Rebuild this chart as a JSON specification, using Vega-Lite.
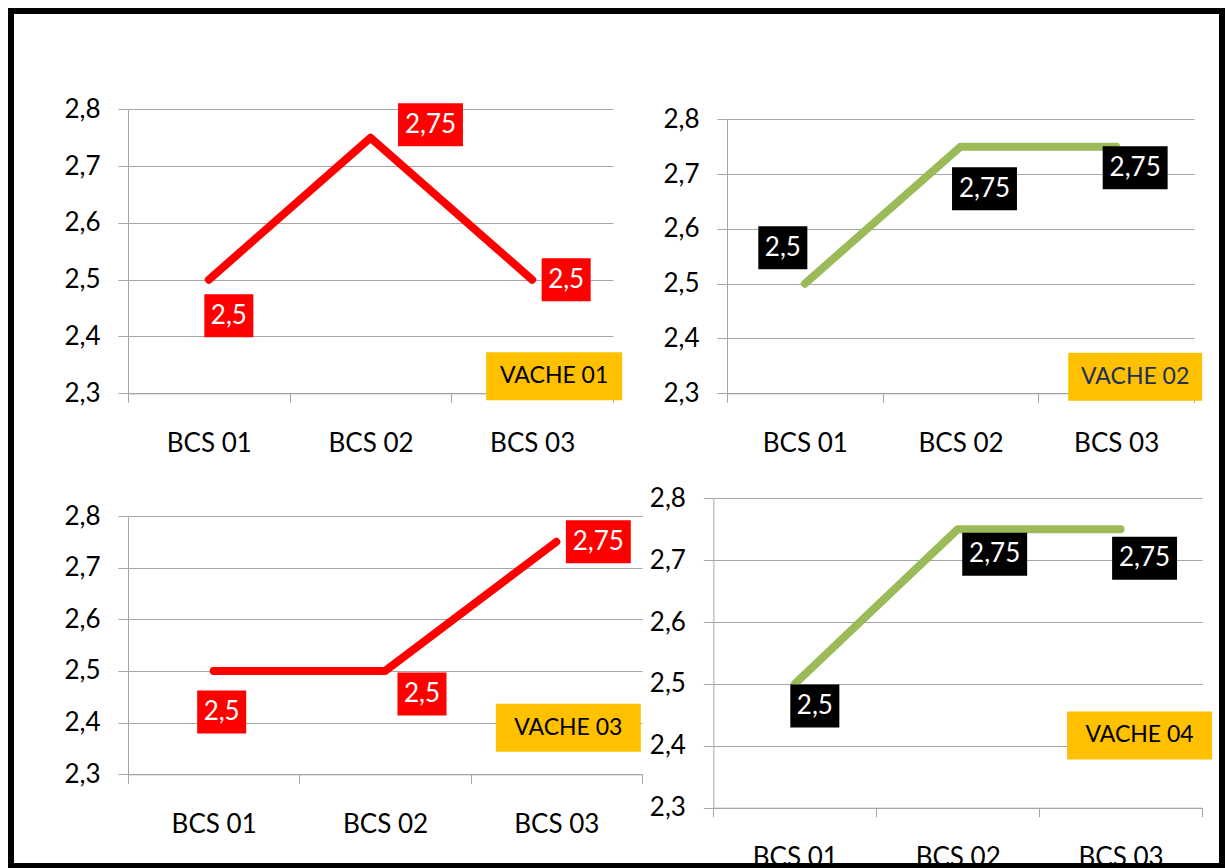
{
  "$schema": "https://vega.github.io/schema/vega-lite/v6.json",
  "width": 1211,
  "height": 855,
  "autosize": {"type": "none"},
  "padding": {"left": 11, "top": 11, "right": 3, "bottom": 2},
  "background": "#ffffff",
  "view": {"stroke": "#000000", "strokeWidth": 6, "fill": "#ffffff"},
  "config": {
    "font": "Lato",
    "locale": {"number": {"decimal": ",", "thousands": "\u00a0", "grouping": [3], "currency": ["", "\u00a0€"]}},
    "axis": {
      "labelFont": "Lato",
      "labelFontSize": 26,
      "labelColor": "#000000",
      "domainColor": "#a5a5a5",
      "tickColor": "#a5a5a5",
      "gridColor": "#a5a5a5",
      "domainWidth": 1,
      "tickWidth": 1,
      "gridWidth": 1,
      "labelFlush": false,
      "labelOverlap": false
    }
  },
  "datasets": {
    "bcs": [
      {"vache": "VACHE 01", "bcs": "BCS 01", "note": 2.5},
      {"vache": "VACHE 01", "bcs": "BCS 02", "note": 2.75},
      {"vache": "VACHE 01", "bcs": "BCS 03", "note": 2.5},
      {"vache": "VACHE 02", "bcs": "BCS 01", "note": 2.5},
      {"vache": "VACHE 02", "bcs": "BCS 02", "note": 2.75},
      {"vache": "VACHE 02", "bcs": "BCS 03", "note": 2.75},
      {"vache": "VACHE 03", "bcs": "BCS 01", "note": 2.5},
      {"vache": "VACHE 03", "bcs": "BCS 02", "note": 2.5},
      {"vache": "VACHE 03", "bcs": "BCS 03", "note": 2.75},
      {"vache": "VACHE 04", "bcs": "BCS 01", "note": 2.5},
      {"vache": "VACHE 04", "bcs": "BCS 02", "note": 2.75},
      {"vache": "VACHE 04", "bcs": "BCS 03", "note": 2.75}
    ]
  },
  "data": {"name": "bcs"},
  "resolve": {
    "scale": {"x": "independent", "y": "independent"},
    "axis": {"x": "independent", "y": "independent"}
  },
  "layer": [
    {
      "transform": [{"filter": "datum.vache === 'VACHE 01'"}],
      "encoding": {
        "x": {"field": "bcs", "type": "nominal", "bandPosition": 0.5,
          "scale": {"type": "band", "range": [117, 602], "paddingInner": 0, "paddingOuter": 0},
          "axis": {"orient": "bottom", "offset": -472.7, "title": null, "tickBand": "extent", "tickSize": 9, "labelPadding": 41, "labelBaseline": "middle", "labelAngle": 0, "grid": false}},
        "y": {"field": "note", "type": "quantitative",
          "scale": {"domain": [2.3, 2.8], "range": [382.3, 98.3], "nice": false, "zero": false},
          "axis": {"orient": "left", "offset": -117, "title": null, "values": [2.3, 2.4, 2.5, 2.6, 2.7, 2.8], "format": ".1f", "tickSize": 10, "labelPadding": 18, "labelBaseline": "middle", "grid": true}}
      },
      "layer": [
        {"mark": {"type": "line", "color": "#ff0000", "strokeWidth": 8, "strokeCap": "round", "strokeJoin": "round"}},
        {
          "transform": [{"filter": "datum.bcs === 'BCS 01'"}],
          "layer": [
            {"mark": {"type": "point", "shape": "M-1.14,-1H1.14V1H-1.14Z", "size": 1849, "filled": true, "color": "#ff0000", "opacity": 1, "strokeWidth": 0, "xOffset": 20, "yOffset": 36}},
            {"mark": {"type": "text", "color": "#ffffff", "fontSize": 26, "align": "center", "baseline": "middle", "xOffset": 20, "yOffset": 36}, "encoding": {"text": {"field": "note", "format": ".2~f"}}}
          ]
        },
        {
          "transform": [{"filter": "datum.bcs === 'BCS 02'"}],
          "layer": [
            {"mark": {"type": "point", "shape": "M-1.51,-1H1.51V1H-1.51Z", "size": 1849, "filled": true, "color": "#ff0000", "opacity": 1, "strokeWidth": 0, "xOffset": 60, "yOffset": -13}},
            {"mark": {"type": "text", "color": "#ffffff", "fontSize": 26, "align": "center", "baseline": "middle", "xOffset": 60, "yOffset": -13}, "encoding": {"text": {"field": "note", "format": ".2~f"}}}
          ]
        },
        {
          "transform": [{"filter": "datum.bcs === 'BCS 03'"}],
          "layer": [
            {"mark": {"type": "point", "shape": "M-1.14,-1H1.14V1H-1.14Z", "size": 1849, "filled": true, "color": "#ff0000", "opacity": 1, "strokeWidth": 0, "xOffset": 34, "yOffset": 0}},
            {"mark": {"type": "text", "color": "#ffffff", "fontSize": 26, "align": "center", "baseline": "middle", "xOffset": 34, "yOffset": 0}, "encoding": {"text": {"field": "note", "format": ".2~f"}}}
          ]
        },
        {
          "transform": [{"filter": "datum.bcs === 'BCS 03'"}],
          "encoding": {"y": {"datum": 2.33, "type": "quantitative",
            "axis": {"orient": "left", "offset": -117, "title": null, "values": [2.3, 2.4, 2.5, 2.6, 2.7, 2.8], "format": ".1f", "tickSize": 10, "labelPadding": 18, "labelBaseline": "middle", "grid": true}}},
          "layer": [
            {"mark": {"type": "point", "shape": "M-2.833,-1H2.833V1H-2.833Z", "size": 2304, "filled": true, "color": "#ffc000", "opacity": 1, "strokeWidth": 0, "xOffset": 22}},
            {"mark": {"type": "text", "color": "#000000", "fontSize": 23, "align": "center", "baseline": "middle", "xOffset": 22}, "encoding": {"text": {"field": "vache"}}}
          ]
        }
      ]
    },
    {
      "transform": [{"filter": "datum.vache === 'VACHE 02'"}],
      "encoding": {
        "x": {"field": "bcs", "type": "nominal", "bandPosition": 0.5,
          "scale": {"type": "band", "range": [716, 1183], "paddingInner": 0, "paddingOuter": 0},
          "axis": {"orient": "bottom", "offset": -472.7, "title": null, "tickBand": "extent", "tickSize": 9, "labelPadding": 41, "labelBaseline": "middle", "labelAngle": 0, "grid": false}},
        "y": {"field": "note", "type": "quantitative",
          "scale": {"domain": [2.3, 2.8], "range": [382.3, 108.3], "nice": false, "zero": false},
          "axis": {"orient": "left", "offset": -716, "title": null, "values": [2.3, 2.4, 2.5, 2.6, 2.7, 2.8], "format": ".1f", "tickSize": 10, "labelPadding": 18, "labelBaseline": "middle", "grid": true}}
      },
      "layer": [
        {"mark": {"type": "line", "color": "#9bbb59", "strokeWidth": 8, "strokeCap": "round", "strokeJoin": "round"}},
        {
          "transform": [{"filter": "datum.bcs === 'BCS 01'"}],
          "layer": [
            {"mark": {"type": "point", "shape": "M-1.14,-1H1.14V1H-1.14Z", "size": 1849, "filled": true, "color": "#000000", "opacity": 1, "strokeWidth": 0, "xOffset": -22, "yOffset": -36}},
            {"mark": {"type": "text", "color": "#ffffff", "fontSize": 26, "align": "center", "baseline": "middle", "xOffset": -22, "yOffset": -36}, "encoding": {"text": {"field": "note", "format": ".2~f"}}}
          ]
        },
        {
          "transform": [{"filter": "datum.bcs === 'BCS 02'"}],
          "layer": [
            {"mark": {"type": "point", "shape": "M-1.51,-1H1.51V1H-1.51Z", "size": 1849, "filled": true, "color": "#000000", "opacity": 1, "strokeWidth": 0, "xOffset": 24, "yOffset": 42}},
            {"mark": {"type": "text", "color": "#ffffff", "fontSize": 26, "align": "center", "baseline": "middle", "xOffset": 24, "yOffset": 42}, "encoding": {"text": {"field": "note", "format": ".2~f"}}}
          ]
        },
        {
          "transform": [{"filter": "datum.bcs === 'BCS 03'"}],
          "layer": [
            {"mark": {"type": "point", "shape": "M-1.51,-1H1.51V1H-1.51Z", "size": 1849, "filled": true, "color": "#000000", "opacity": 1, "strokeWidth": 0, "xOffset": 19, "yOffset": 21}},
            {"mark": {"type": "text", "color": "#ffffff", "fontSize": 26, "align": "center", "baseline": "middle", "xOffset": 19, "yOffset": 21}, "encoding": {"text": {"field": "note", "format": ".2~f"}}}
          ]
        },
        {
          "transform": [{"filter": "datum.bcs === 'BCS 03'"}],
          "encoding": {"y": {"datum": 2.33, "type": "quantitative",
            "axis": {"orient": "left", "offset": -716, "title": null, "values": [2.3, 2.4, 2.5, 2.6, 2.7, 2.8], "format": ".1f", "tickSize": 10, "labelPadding": 18, "labelBaseline": "middle", "grid": true}}},
          "layer": [
            {"mark": {"type": "point", "shape": "M-2.79,-1H2.79V1H-2.79Z", "size": 2304, "filled": true, "color": "#ffc000", "opacity": 1, "strokeWidth": 0, "xOffset": 19}},
            {"mark": {"type": "text", "color": "#1c2e5c", "fontSize": 23, "align": "center", "baseline": "middle", "xOffset": 19}, "encoding": {"text": {"field": "vache"}}}
          ]
        }
      ]
    },
    {
      "transform": [{"filter": "datum.vache === 'VACHE 03'"}],
      "encoding": {
        "x": {"field": "bcs", "type": "nominal", "bandPosition": 0.5,
          "scale": {"type": "band", "range": [117, 631], "paddingInner": 0, "paddingOuter": 0},
          "axis": {"orient": "bottom", "offset": -91.7, "title": null, "tickBand": "extent", "tickSize": 9, "labelPadding": 41, "labelBaseline": "middle", "labelAngle": 0, "grid": false}},
        "y": {"field": "note", "type": "quantitative",
          "scale": {"domain": [2.3, 2.8], "range": [763.3, 505], "nice": false, "zero": false},
          "axis": {"orient": "left", "offset": -117, "title": null, "values": [2.3, 2.4, 2.5, 2.6, 2.7, 2.8], "format": ".1f", "tickSize": 10, "labelPadding": 18, "labelBaseline": "middle", "grid": true}}
      },
      "layer": [
        {"mark": {"type": "line", "color": "#ff0000", "strokeWidth": 8, "strokeCap": "round", "strokeJoin": "round"}},
        {
          "transform": [{"filter": "datum.bcs === 'BCS 01'"}],
          "layer": [
            {"mark": {"type": "point", "shape": "M-1.14,-1H1.14V1H-1.14Z", "size": 1849, "filled": true, "color": "#ff0000", "opacity": 1, "strokeWidth": 0, "xOffset": 8, "yOffset": 41}},
            {"mark": {"type": "text", "color": "#ffffff", "fontSize": 26, "align": "center", "baseline": "middle", "xOffset": 8, "yOffset": 41}, "encoding": {"text": {"field": "note", "format": ".2~f"}}}
          ]
        },
        {
          "transform": [{"filter": "datum.bcs === 'BCS 02'"}],
          "layer": [
            {"mark": {"type": "point", "shape": "M-1.14,-1H1.14V1H-1.14Z", "size": 1849, "filled": true, "color": "#ff0000", "opacity": 1, "strokeWidth": 0, "xOffset": 37, "yOffset": 23}},
            {"mark": {"type": "text", "color": "#ffffff", "fontSize": 26, "align": "center", "baseline": "middle", "xOffset": 37, "yOffset": 23}, "encoding": {"text": {"field": "note", "format": ".2~f"}}}
          ]
        },
        {
          "transform": [{"filter": "datum.bcs === 'BCS 03'"}],
          "layer": [
            {"mark": {"type": "point", "shape": "M-1.51,-1H1.51V1H-1.51Z", "size": 1849, "filled": true, "color": "#ff0000", "opacity": 1, "strokeWidth": 0, "xOffset": 42, "yOffset": 0}},
            {"mark": {"type": "text", "color": "#ffffff", "fontSize": 26, "align": "center", "baseline": "middle", "xOffset": 42, "yOffset": 0}, "encoding": {"text": {"field": "note", "format": ".2~f"}}}
          ]
        },
        {
          "transform": [{"filter": "datum.bcs === 'BCS 03'"}],
          "encoding": {"y": {"datum": 2.39, "type": "quantitative",
            "axis": {"orient": "left", "offset": -117, "title": null, "values": [2.3, 2.4, 2.5, 2.6, 2.7, 2.8], "format": ".1f", "tickSize": 10, "labelPadding": 18, "labelBaseline": "middle", "grid": true}}},
          "layer": [
            {"mark": {"type": "point", "shape": "M-3.02,-1H3.02V1H-3.02Z", "size": 2304, "filled": true, "color": "#ffc000", "opacity": 1, "strokeWidth": 0, "xOffset": 12}},
            {"mark": {"type": "text", "color": "#000000", "fontSize": 23, "align": "center", "baseline": "middle", "xOffset": 12}, "encoding": {"text": {"field": "vache"}}}
          ]
        }
      ]
    },
    {
      "transform": [{"filter": "datum.vache === 'VACHE 04'"}],
      "encoding": {
        "x": {"field": "bcs", "type": "nominal", "bandPosition": 0.5,
          "scale": {"type": "band", "range": [702.4, 1191], "paddingInner": 0, "paddingOuter": 0},
          "axis": {"orient": "bottom", "offset": -58.3, "title": null, "tickBand": "extent", "tickSize": 9, "labelPadding": 41, "labelBaseline": "middle", "labelAngle": 0, "grid": false}},
        "y": {"field": "note", "type": "quantitative",
          "scale": {"domain": [2.3, 2.8], "range": [796.7, 487.3], "nice": false, "zero": false},
          "axis": {"orient": "left", "offset": -702.4, "title": null, "values": [2.3, 2.4, 2.5, 2.6, 2.7, 2.8], "format": ".1f", "tickSize": 10, "labelPadding": 18, "labelBaseline": "middle", "grid": true}}
      },
      "layer": [
        {"mark": {"type": "line", "color": "#9bbb59", "strokeWidth": 8, "strokeCap": "round", "strokeJoin": "round"}},
        {
          "transform": [{"filter": "datum.bcs === 'BCS 01'"}],
          "layer": [
            {"mark": {"type": "point", "shape": "M-1.14,-1H1.14V1H-1.14Z", "size": 1849, "filled": true, "color": "#000000", "opacity": 1, "strokeWidth": 0, "xOffset": 20, "yOffset": 22}},
            {"mark": {"type": "text", "color": "#ffffff", "fontSize": 26, "align": "center", "baseline": "middle", "xOffset": 20, "yOffset": 22}, "encoding": {"text": {"field": "note", "format": ".2~f"}}}
          ]
        },
        {
          "transform": [{"filter": "datum.bcs === 'BCS 02'"}],
          "layer": [
            {"mark": {"type": "point", "shape": "M-1.51,-1H1.51V1H-1.51Z", "size": 1849, "filled": true, "color": "#000000", "opacity": 1, "strokeWidth": 0, "xOffset": 37, "yOffset": 25}},
            {"mark": {"type": "text", "color": "#ffffff", "fontSize": 26, "align": "center", "baseline": "middle", "xOffset": 37, "yOffset": 25}, "encoding": {"text": {"field": "note", "format": ".2~f"}}}
          ]
        },
        {
          "transform": [{"filter": "datum.bcs === 'BCS 03'"}],
          "layer": [
            {"mark": {"type": "point", "shape": "M-1.51,-1H1.51V1H-1.51Z", "size": 1849, "filled": true, "color": "#000000", "opacity": 1, "strokeWidth": 0, "xOffset": 24, "yOffset": 29}},
            {"mark": {"type": "text", "color": "#ffffff", "fontSize": 26, "align": "center", "baseline": "middle", "xOffset": 24, "yOffset": 29}, "encoding": {"text": {"field": "note", "format": ".2~f"}}}
          ]
        },
        {
          "transform": [{"filter": "datum.bcs === 'BCS 03'"}],
          "encoding": {"y": {"datum": 2.42, "type": "quantitative",
            "axis": {"orient": "left", "offset": -702.4, "title": null, "values": [2.3, 2.4, 2.5, 2.6, 2.7, 2.8], "format": ".1f", "tickSize": 10, "labelPadding": 18, "labelBaseline": "middle", "grid": true}}},
          "layer": [
            {"mark": {"type": "point", "shape": "M-3.02,-1H3.02V1H-3.02Z", "size": 2304, "filled": true, "color": "#ffc000", "opacity": 1, "strokeWidth": 0, "xOffset": 19, "yOffset": 2}},
            {"mark": {"type": "text", "color": "#000000", "fontSize": 23, "align": "center", "baseline": "middle", "xOffset": 19, "yOffset": 2}, "encoding": {"text": {"field": "vache"}}}
          ]
        }
      ]
    }
  ]
}
